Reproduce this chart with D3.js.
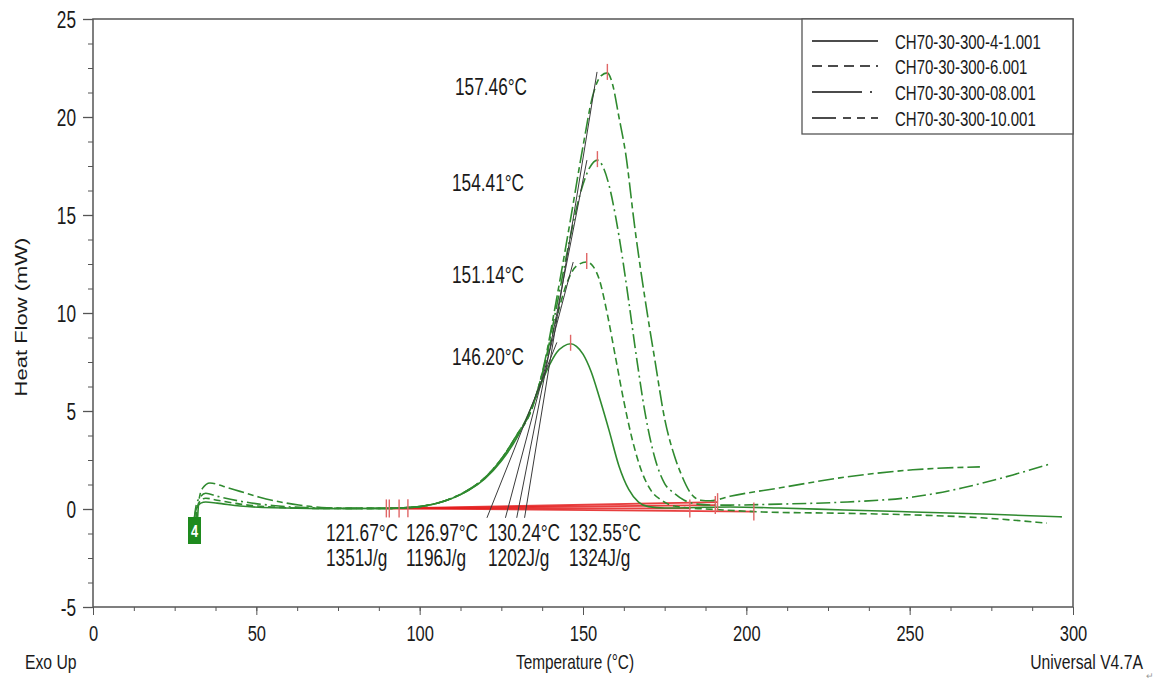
<!DOCTYPE html>
<html>
<head>
<meta charset="utf-8">
<script src="https://cdn.jsdelivr.net/npm/d3@7"></script>
<style>
  body { margin: 0; background: #fff; }
  svg text { font-family: "Liberation Sans", Arial, sans-serif; fill: #1a1a1a; }
</style>
</head>
<body>
<svg id="dsc" width="1158" height="680"></svg>
<script>
// ---- data ----
var seriesNames = ['CH70-30-300-4-1.001', 'CH70-30-300-6.001', 'CH70-30-300-08.001', 'CH70-30-300-10.001'];

var curveA = [[31, -0.5], [31.6, 0], [33, 0.3], [34.5, 0.36], [38, 0.3], [45, 0.15], [55, 0.06], [70, 0.02], [90, 0.03],
  [95, 0.06], [100, 0.12], [105, 0.28], [110, 0.55], [115, 0.95], [120, 1.55], [125, 2.45], [130, 3.7], [135, 5.5],
  [139, 7.1], [142, 8.0], [144, 8.3], [146.2, 8.43], [148, 8.3], [150, 7.9], [152.5, 7.0], [155, 5.7], [158, 4.0],
  [161, 2.2], [164, 1.0], [167, 0.35], [170, 0.12], [175, 0.05], [185, 0.08], [195, 0.1], [210, 0.05], [230, -0.05],
  [251, -0.15], [275, -0.27], [296.6, -0.4]];

var curveB = [[31.5, -0.5], [32, 0.1], [33, 0.45], [34.5, 0.55], [38, 0.45], [45, 0.25], [55, 0.1], [70, 0.03], [90, 0.03],
  [95, 0.06], [100, 0.12], [105, 0.28], [110, 0.56], [115, 0.98], [120, 1.6], [125, 2.55], [130, 3.8], [134, 4.95],
  [138, 7.2], [142, 9.8], [145, 11.5], [148, 12.4], [151.14, 12.6], [153, 12.4], [155, 11.7], [157.5, 9.9], [160, 7.7],
  [162.5, 5.5], [165, 3.6], [168, 1.9], [171, 0.9], [174, 0.45], [178, 0.15], [183, 0.05], [190, -0.02], [205, -0.15],
  [230, -0.22], [251, -0.3], [272, -0.45], [292, -0.72]];

var curveC = [[31, -0.5], [31.6, 0.2], [33, 0.65], [34.5, 0.8], [38, 0.65], [45, 0.4], [55, 0.18], [65, 0.07], [80, 0.03],
  [90, 0.03], [95, 0.06], [100, 0.12], [105, 0.28], [110, 0.56], [115, 0.98], [120, 1.6], [125, 2.55], [130, 3.85],
  [134, 5.0], [138, 7.2], [142, 10.4], [146, 13.8], [149, 16.0], [152, 17.4], [154.41, 17.8], [156, 17.5], [158, 16.5],
  [160, 14.9], [162, 12.9], [164, 10.6], [166.5, 7.6], [169, 4.9], [172, 2.6], [175, 1.3], [178, 0.8], [181, 0.45],
  [185, 0.25], [190, 0.2], [195, 0.2], [210, 0.25], [231, 0.36], [251, 0.61], [266, 1.07], [281.6, 1.74], [293, 2.3]];

var curveD = [[32, -0.5], [32.4, 0.4], [33.5, 1.05], [35.8, 1.33], [40, 1.15], [45, 0.9], [51, 0.6], [57, 0.37], [63, 0.2],
  [70, 0.08], [80, 0.03], [90, 0.03], [95, 0.06], [100, 0.12], [105, 0.28], [110, 0.56], [115, 0.98], [120, 1.6],
  [125, 2.55], [130, 3.85], [134, 5.0], [138, 7.3], [142, 10.8], [146, 14.6], [150, 18.5], [153, 21.1], [155.5, 22.1],
  [157.46, 22.25], [159, 21.7], [161, 20.0], [163, 18.2], [165.9, 14.3], [169, 10.7], [172, 7.6], [175, 4.6], [178, 2.7],
  [180, 1.8], [183, 0.8], [186, 0.45], [189, 0.42], [195, 0.65], [210, 1.07], [230.8, 1.64], [251, 2.0], [271.5, 2.15]];

var curves = [curveA, curveB, curveC, curveD];

// peaks
var peakTemps = [146.20, 151.14, 154.41, 157.46];
var peakFlows = [8.43, 12.6, 17.8, 22.25];
var peakLabels = ['146.20°C', '151.14°C', '154.41°C', '157.46°C'];

// onset analysis
var onsetTemps = [121.67, 126.97, 130.24, 132.55];
var onsetLabels = ['121.67°C', '126.97°C', '130.24°C', '132.55°C'];
var enthalpyLabels = ['1351J/g', '1196J/g', '1202J/g', '1324J/g'];
var tangentTopT = [142, 147, 151.2, 154.3];
var tangentTopHF = [8.5, 12.6, 17.8, 22.3];

// integration baselines
var baseStartT = [89.8, 90.7, 93.7, 96.4];
var baseEndT = [182.7, 202.3, 190.5, 191.2];
var baseStartHF = [0.03, 0.03, 0.03, 0.04];
var baseEndHF = [0.03, -0.13, 0.2, 0.35];

var xMajor = [0, 50, 100, 150, 200, 250, 300];
var yMajor = [-5, 0, 5, 10, 15, 20, 25];

// ---- styles ----
var green = '#2f8a2f';
var red = '#e41e1e';
var curveDash = [null, '7,4', '14,4,2,4', '16,4,6,4'];
var legendDash = [null, '10,6', '50,8,2,8', '24,7,8,6,8,6'];
var sq = 0.75; // the original export is squeezed sideways, text too

var svg = d3.select('#dsc');
var x = d3.scaleLinear().domain([0, 300]).range([93, 1073]);
var y = d3.scaleLinear().domain([-5, 25]).range([607, 19]);

// text drawn narrow like the source picture
function label(g, str, tx, ty, size, anchor) {
  return g.append('text')
    .text(str)
    .attr('transform', 'translate(' + tx + ',' + ty + ') scale(' + sq + ',1)')
    .attr('text-anchor', anchor || 'start')
    .attr('font-size', size + 'px');
}

// minor + major ticks
var xMinor = d3.range(0, 300.1, 12.5);
var yMinor = d3.range(-5, 25.1, 1.25);

svg.append('g')
  .attr('transform', 'translate(0,' + y(-5) + ')')
  .call(d3.axisBottom(x).tickValues(xMinor).tickSize(4).tickFormat(''))
  .call(function (g) { g.select('.domain').remove(); g.selectAll('line').attr('stroke', '#555'); });
svg.append('g')
  .attr('transform', 'translate(0,' + y(-5) + ')')
  .call(d3.axisBottom(x).tickValues(xMajor).tickSize(8).tickFormat(function (d) { return String(d); }))
  .call(function (g) {
    g.select('.domain').remove();
    g.selectAll('line').attr('stroke', '#555');
    g.selectAll('text')
      .attr('y', 34).attr('dy', null)
      .attr('transform', 'scale(' + sq + ',1)')
      .attr('font-size', '22px').attr('font-family', '"Liberation Sans", Arial, sans-serif').attr('fill', '#1a1a1a');
  });

svg.append('g')
  .attr('transform', 'translate(' + x(0) + ',0)')
  .call(d3.axisLeft(y).tickValues(yMinor).tickSize(5).tickFormat(''))
  .call(function (g) { g.select('.domain').remove(); g.selectAll('line').attr('stroke', '#555'); });
svg.append('g')
  .attr('transform', 'translate(' + x(0) + ',0)')
  .call(d3.axisLeft(y).tickValues(yMajor).tickSize(10).tickFormat(function (d) { return String(d); }))
  .call(function (g) {
    g.select('.domain').remove();
    g.selectAll('line').attr('stroke', '#555').attr('stroke-width', 1.3);
    g.selectAll('text')
      .attr('x', -17 / sq).attr('dy', '0.36em')
      .attr('transform', 'scale(' + sq + ',1)')
      .attr('font-size', '23px').attr('font-family', '"Liberation Sans", Arial, sans-serif').attr('fill', '#1a1a1a');
  });

// frame
svg.append('rect')
  .attr('x', x(0)).attr('y', y(25))
  .attr('width', x(300) - x(0)).attr('height', y(-5) - y(25))
  .attr('fill', 'none').attr('stroke', '#555').attr('stroke-width', 1.5);

// integration baselines (red)
svg.append('g').selectAll('line')
  .data(baseStartT)
  .enter()
  .append('line')
  .attr('x1', function (d) { return x(d); })
  .attr('y1', function (d, i) { return y(baseStartHF[i]); })
  .attr('x2', function (d, i) { return x(baseEndT[i]); })
  .attr('y2', function (d, i) { return y(baseEndHF[i]); })
  .attr('stroke', red).attr('stroke-width', 1.8).attr('opacity', 0.85);

// curves
var line = d3.line()
  .x(function (d) { return x(d[0]); })
  .y(function (d) { return y(d[1]); })
  .curve(d3.curveMonotoneX);

svg.append('g').selectAll('path')
  .data(curves)
  .enter()
  .append('path')
  .attr('d', line)
  .attr('fill', 'none')
  .attr('stroke', green)
  .attr('stroke-width', 1.6)
  .attr('stroke-dasharray', function (d, i) { return curveDash[i]; });

// onset tangents
svg.append('g').selectAll('line')
  .data(onsetTemps)
  .enter()
  .append('line')
  .attr('x1', function (d, i) {
    var slope = tangentTopHF[i] / (tangentTopT[i] - d);
    return x(d - 0.45 / slope);
  })
  .attr('y1', y(-0.45))
  .attr('x2', function (d, i) { return x(tangentTopT[i]); })
  .attr('y2', function (d, i) { return y(tangentTopHF[i]); })
  .attr('stroke', '#3a3a3a').attr('stroke-width', 1);

// red markers: baseline limits and peaks
var markColor = '#e06666';
svg.append('g').selectAll('line')
  .data(baseStartT.concat(baseEndT))
  .enter()
  .append('line')
  .attr('x1', function (d) { return x(d); })
  .attr('x2', function (d) { return x(d); })
  .attr('y1', function (d, i) { return y((i < 4 ? baseStartHF[i] : baseEndHF[i - 4])) - 9; })
  .attr('y2', function (d, i) { return y((i < 4 ? baseStartHF[i] : baseEndHF[i - 4])) + 9; })
  .attr('stroke', markColor).attr('stroke-width', 1.4);

svg.append('g').selectAll('line')
  .data(peakTemps)
  .enter()
  .append('line')
  .attr('x1', function (d) { return x(d); })
  .attr('x2', function (d) { return x(d); })
  .attr('y1', function (d, i) { return y(peakFlows[i]) - 9; })
  .attr('y2', function (d, i) { return y(peakFlows[i]) + 7; })
  .attr('stroke', markColor).attr('stroke-width', 1.4);

// peak labels
var peakLabelX = [452, 452, 452, 455];
var peakLabelY = [365, 283, 191, 95];
var pl = svg.append('g');
peakLabels.forEach(function (d, i) { label(pl, d, peakLabelX[i], peakLabelY[i], 23); });

// onset / enthalpy labels
var onsetX = [326, 406, 488, 569];
var ol = svg.append('g');
onsetLabels.forEach(function (d, i) { label(ol, d, onsetX[i], 541, 23); });
enthalpyLabels.forEach(function (d, i) { label(ol, d, onsetX[i], 566, 23); });

// green start marker
svg.append('rect')
  .attr('x', 188).attr('y', 517).attr('width', 13).attr('height', 27)
  .attr('fill', '#1e8a1e');
label(svg, '4', 194.5, 537, 17, 'middle')
  .attr('font-weight', 'bold')
  .style('fill', '#fff');

// legend
var lg = svg.append('g');
lg.append('rect')
  .attr('x', 802).attr('y', 19).attr('width', 1073 - 802).attr('height', 115)
  .attr('fill', '#fff').attr('stroke', '#555').attr('stroke-width', 1.3);
var legendY = [41, 66, 92, 118];
lg.selectAll('line')
  .data(seriesNames)
  .enter()
  .append('line')
  .attr('x1', 812).attr('x2', 878)
  .attr('y1', function (d, i) { return legendY[i]; })
  .attr('y2', function (d, i) { return legendY[i]; })
  .attr('stroke', '#111').attr('stroke-width', 1.6)
  .attr('stroke-dasharray', function (d, i) { return legendDash[i]; });
seriesNames.forEach(function (d, i) { label(lg, d, 895, legendY[i] + 7.5, 20); });

// axis titles
svg.append('text')
  .text('Heat Flow (mW)')
  .attr('transform', 'translate(27,317) rotate(-90) scale(1,' + sq + ')')
  .attr('text-anchor', 'middle')
  .attr('font-size', '22px');
label(svg, 'Temperature (°C)', 575, 669, 20.5, 'middle');
label(svg, 'Exo Up', 25, 669, 21);
label(svg, 'Universal V4.7A', 1143, 669, 21, 'end');
svg.append('text')
  .text('↵')
  .attr('x', 1146).attr('y', 679)
  .attr('font-size', '9px')
  .style('fill', '#999');
</script>
</body>
</html>
